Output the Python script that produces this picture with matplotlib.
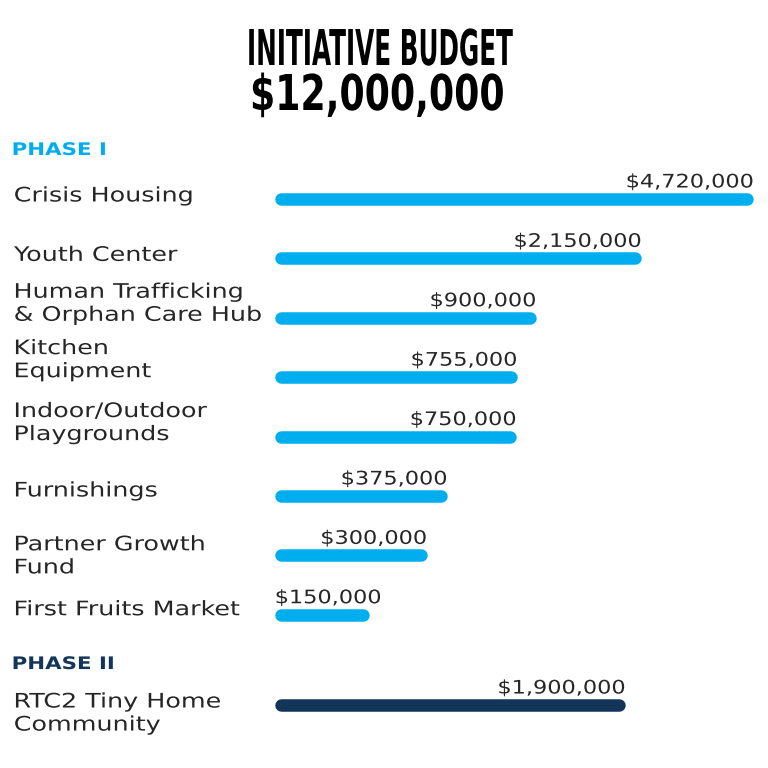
import matplotlib
matplotlib.use("Agg")

import numpy as np
import matplotlib.pyplot as plt
from matplotlib import transforms
from matplotlib.patheffects import AbstractPathEffect

# data
phase1_labels = [
    "Crisis Housing",
    "Youth Center",
    "Human Trafficking\n& Orphan Care Hub",
    "Kitchen\nEquipment",
    "Indoor/Outdoor\nPlaygrounds",
    "Furnishings",
    "Partner Growth\nFund",
    "First Fruits Market",
]
phase1_values = [4720000, 2150000, 900000, 755000, 750000, 375000, 300000, 150000]
phase2_labels = ["RTC2 Tiny Home\nCommunity"]
phase2_values = [1900000]
total_budget = 12000000

# style / layout
BLUE = "#00AEEF"
NAVY = "#13355A"
TEXT = "#262626"
DPI = 96
PX = 72 / DPI  # points per pixel

# the infographic bars are not linear; a power scale comes close
POWER = 0.2
XMIN, XMAX = 45400, 5.39e6


class Stretch(AbstractPathEffect):
    """Scale drawn text horizontally (wide tracking / condensed title look)."""

    def __init__(self, sx, anchor="left"):
        super().__init__()
        self.sx = sx
        self.anchor = anchor

    def draw_path(self, renderer, gc, tpath, affine, rgbFace=None):
        ext = tpath.get_extents(affine)
        x0 = {"left": ext.x0, "center": (ext.x0 + ext.x1) / 2, "right": ext.x1}[self.anchor]
        aff = affine + transforms.Affine2D().translate(-x0, 0).scale(self.sx, 1).translate(x0, 0)
        renderer.draw_path(gc, tpath, aff, rgbFace)


fig = plt.figure(figsize=(8, 8), dpi=DPI)
fig.patch.set_facecolor("white")
ax = fig.add_axes([281 / 768, 0, 1 - 281 / 768, 1])
ax.set_xscale("function", functions=(lambda v: np.sign(v) * np.abs(v) ** POWER,
                                     lambda v: np.sign(v) * np.abs(v) ** (1 / POWER)))
ax.set_xlim(XMIN, XMAX)
ax.set_ylim(9.58, -3.35)
ax.axis("off")

labels = phase1_labels + phase2_labels
values = phase1_values + phase2_values
colors = [BLUE] * len(phase1_values) + [NAVY] * len(phase2_values)
ypos = list(range(len(phase1_values))) + [len(phase1_values) + 0.52 + i for i in range(len(phase2_values))]
label_nudge_px = [-3, -3, -14, -17, -13.5, -5, 1, -5, 8.5]

blend = transforms.blended_transform_factory(fig.transFigure, ax.transData)
LABEL_SX = 1.27
VALUE_SX = 1.2

value_texts = []
for lab, val, col, y, nudge in zip(labels, values, colors, ypos, label_nudge_px):
    ax.plot([XMIN, val], [y, y], color=col, lw=12.5 * PX,
            solid_capstyle="round", clip_on=False)
    fig.text(14 / 768, y, lab, fontsize=15, color=TEXT, va="center", ha="left",
             linespacing=1.27, family="DejaVu Sans",
             path_effects=[Stretch(LABEL_SX, "left")],
             transform=transforms.offset_copy(blend, fig=fig, y=-nudge * PX, units="points"))
    t = ax.annotate(f"${val:,.0f}", xy=(val, y), xytext=(6 * PX, 17 * PX),
                    textcoords="offset points", ha="right", va="center",
                    fontsize=14, color=TEXT, family="DejaVu Sans",
                    path_effects=[Stretch(VALUE_SX, "right")])
    value_texts.append(t)

# labels too wide for their bar start at the bar's left edge instead
fig.canvas.draw()
renderer = fig.canvas.get_renderer()
start_px = ax.transData.transform((XMIN, 0))[0] - 6
for t in value_texts:
    bb = t.get_window_extent(renderer)
    if bb.x1 - VALUE_SX * bb.width < start_px:
        t.xy = (XMIN, t.xy[1])
        t.set_ha("left")
        t.set_position((-6 * PX, 17 * PX))
        t.set_path_effects([Stretch(VALUE_SX, "left")])

# phase headers
for txt, yy, col in [("PHASE I", -0.825, BLUE), ("PHASE II", 7.83, NAVY)]:
    fig.text(12 / 768, yy, txt, transform=blend, fontsize=13, fontweight="bold",
             color=col, va="center", ha="left", family="DejaVu Sans",
             path_effects=[Stretch(1.23, "left")])

# title
fig.text(0.493, 1 - 51 / 768, "INITIATIVE BUDGET", fontsize=37, fontweight="bold",
         family="DejaVu Sans", color="black", ha="center", va="center",
         path_effects=[Stretch(0.50, "center")])
fig.text(0.491, 1 - 96 / 768, f"${total_budget:,.0f}", fontsize=37, fontweight="bold",
         family="DejaVu Sans", color="black", ha="center", va="center",
         path_effects=[Stretch(0.735, "center")])

fig.savefig("out.png", dpi=DPI, facecolor="white")
